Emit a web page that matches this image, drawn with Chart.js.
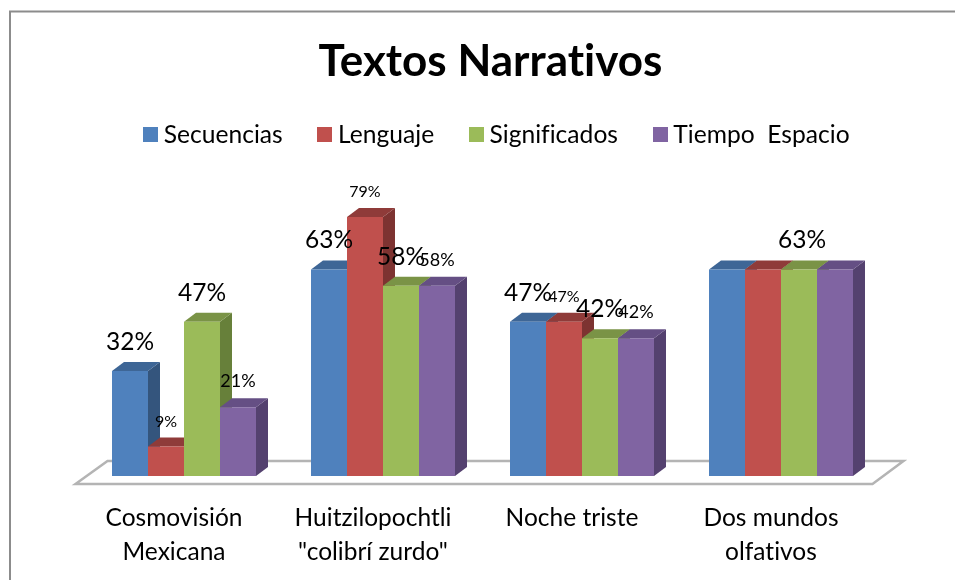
<!DOCTYPE html>
<html><head><meta charset="utf-8">
<style>html,body{margin:0;padding:0;background:#fff}#w{position:absolute;left:0;top:0;width:955px;height:580px}</style>
<script src="https://cdn.jsdelivr.net/npm/chart.js@4"></script>
</head><body><div id="w"><canvas id="c" width="955" height="580"></canvas></div>
<script>
const chartTitle = 'Textos Narrativos';
const categories = [['Cosmovisión','Mexicana'],['Huitzilopochtli','"colibrí zurdo"'],['Noche triste'],['Dos mundos','olfativos']];
const secuencias = [32,63,47,63];
const lenguaje = [9,79,47,63];
const significados = [47,58,42,63];
const tiempoEspacio = [21,58,42,63];
const showSecuencias = [true,true,true,false];
const showLenguaje = [true,true,true,false];
const showSignificados = [true,true,true,true];
const showTiempo = [true,true,true,false];
const seriesNames = ['Secuencias','Lenguaje','Significados','Tiempo  Espacio'];
const frontColors = ['#4F81BD','#C0504D','#9BBB59','#8064A2'];
const sideColors = ['#34557d','#7d3331','#67803a','#54416f'];
const topColors = ['#3e6696','#8f3b39','#7a9346','#654f84'];
const labelSizes = [24.5,16,24.5,18];
const labelLift = [29,25,29,26];
const FONT = 'Lato, Carlito, sans-serif';
const DX = 12, DY = 9;

function swatch(col){
  const s=document.createElement('canvas'); s.width=15; s.height=15;
  const x=s.getContext('2d'); x.fillStyle=col; x.fillRect(0,0,15,15);
  return s;
}
const swatches = frontColors.map(swatch);
const noLig = c => { c.letterSpacing='0.01px'; };
const frame = {id:'frame',
 beforeUpdate(ch){ noLig(ch.ctx); },
 afterLayout(ch){ ch.legend.left+=9; ch.legend.right+=9; },
 beforeDraw(ch){
  const c = ch.ctx; noLig(c); c.save();
  c.fillStyle='#fff'; c.fillRect(0,0,ch.width,ch.height);
  c.strokeStyle='#8c8c8c'; c.lineWidth=2;
  c.beginPath(); c.moveTo(10,580); c.lineTo(10,11.5); c.lineTo(955,11.5); c.stroke();
  c.restore();
}};
const box3d = {id:'box3d', beforeDatasetsDraw(ch){
  const c = ch.ctx, a = ch.chartArea;
  const base = a.bottom;
  c.save();
  c.beginPath();
  c.moveTo(a.left-9, base+8); c.lineTo(a.left+23, base-15);
  c.lineTo(a.right+23, base-15); c.lineTo(a.right-8, base+8); c.closePath();
  c.fillStyle='#fff'; c.fill();
  c.strokeStyle='#b4b4b4'; c.lineWidth=2.5; c.stroke();
  const n = ch.data.labels.length, m = ch.data.datasets.length;
  for(let i=0;i<n;i++){ for(let d=0;d<m;d++){
    const b = ch.getDatasetMeta(d).data[i];
    const L=b.x-b.width/2, R=b.x+b.width/2, T=b.y, B=b.base;
    c.fillStyle=sideColors[d];
    c.beginPath(); c.moveTo(R,T); c.lineTo(R+DX,T-DY); c.lineTo(R+DX,B-DY); c.lineTo(R,B); c.closePath(); c.fill();
    c.fillStyle=topColors[d];
    c.beginPath(); c.moveTo(L,T); c.lineTo(L+DX,T-DY); c.lineTo(R+DX,T-DY); c.lineTo(R,T); c.closePath(); c.fill();
  }}
  c.restore();
}};
const valueLabels = {id:'valueLabels', afterDatasetsDraw(ch){
  const c = ch.ctx; c.save();
  c.fillStyle='#000'; c.textAlign='center'; c.textBaseline='middle';
  const shows=[showSecuencias,showLenguaje,showSignificados,showTiempo];
  ch.data.datasets.forEach((ds,d)=>{
    c.font=labelSizes[d]+'px '+FONT;
    ch.getDatasetMeta(d).data.forEach((b,i)=>{
      if(!shows[d][i]) return;
      c.fillText(ds.data[i]+'%', b.x+(i===3?3:0), b.y-labelLift[d]);
    });
  });
  c.restore();
}};
new Chart(document.getElementById('c'),{
  type:'bar',
  data:{labels:categories,datasets:[
    {label:seriesNames[0],data:secuencias,backgroundColor:frontColors[0]},
    {label:seriesNames[1],data:lenguaje,backgroundColor:frontColors[1]},
    {label:seriesNames[2],data:significados,backgroundColor:frontColors[2]},
    {label:seriesNames[3],data:tiempoEspacio,backgroundColor:frontColors[3]}
  ]},
  plugins:[frame,box3d,valueLabels],
  options:{
    responsive:false,animation:false,
    layout:{padding:{left:26,right:0,top:35.5,bottom:0}},
    datasets:{bar:{categoryPercentage:144/199,barPercentage:1,borderWidth:0}},
    plugins:{
      title:{display:true,text:chartTitle,color:'#000',font:{family:FONT,size:44,weight:'bold'},padding:{top:0,bottom:-7}},
      legend:{position:'top',labels:{boxWidth:2,boxHeight:15,usePointStyle:true,color:'#000',padding:41,font:{family:FONT,size:24.6},
        generateLabels(ch){
          const items=Chart.defaults.plugins.legend.labels.generateLabels(ch);
          items.forEach((it,i)=>{it.pointStyle=swatches[i];});
          return items;
        }}},
      tooltip:{enabled:false}
    },
    scales:{
      x:{grid:{display:false},border:{display:false},
         ticks:{color:'#000',padding:18,maxRotation:0,autoSkip:false,labelOffset:-10,font:{family:FONT,size:24.5,lineHeight:1.35}},
         afterFit(s){s.height=104;}},
      y:{min:0,max:97.3,grid:{display:false},border:{display:false},ticks:{display:false},afterFit(s){s.width=58.5;}},
      r:{position:'right',min:0,max:97.3,grid:{display:false},border:{display:false},ticks:{display:false},afterFit(s){s.width=74.5;}}
    }
  }
});
</script></body></html>
